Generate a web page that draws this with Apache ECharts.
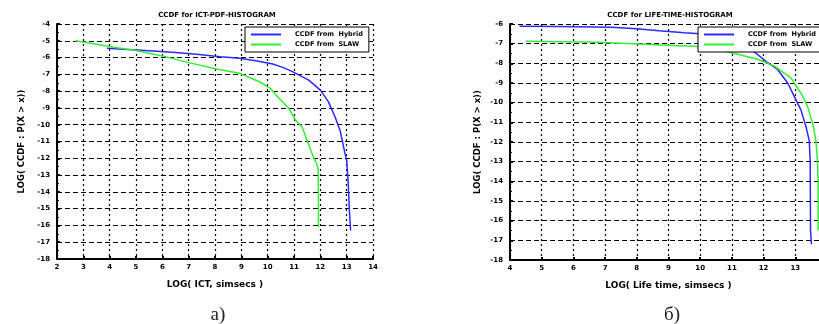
<!DOCTYPE html>
<html>
<head>
<meta charset="utf-8">
<script src="https://cdn.jsdelivr.net/npm/echarts@6/dist/echarts.min.js"></script>
<style>
  html, body { margin: 0; padding: 0; background: #fff; overflow: hidden; }
  #chart { width: 819px; height: 324px; }
</style>
</head>
<body>
<div id="chart"></div>
<script>
// (a) ICT histogram CCDF
const ictHybridX = [3.9, 4.5, 5.5, 6.5, 7.3, 8.2, 8.94, 9.6, 10.19, 10.6, 10.94, 11.56, 12.0, 12.31, 12.56, 12.75, 12.94, 13.0, 13.06, 13.1, 13.13, 13.15];
const ictHybridY = [-5.45, -5.5, -5.6, -5.7, -5.8, -5.95, -6.04, -6.2, -6.38, -6.6, -6.84, -7.34, -7.94, -8.64, -9.54, -10.34, -11.74, -12.1, -13.5, -15, -15.8, -16.3];
const ictSlawX = [2.7, 3.5, 4.2, 4.9, 6.0, 7.0, 8.1, 8.94, 9.69, 10.1, 10.44, 10.81, 11.06, 11.31, 11.5, 11.69, 11.8, 11.86, 11.92, 11.93, 11.93];
const ictSlawY = [-5.0, -5.2, -5.4, -5.55, -5.9, -6.3, -6.7, -6.94, -7.44, -7.84, -8.44, -9.04, -9.74, -10.14, -10.94, -11.74, -12.14, -12.3, -12.7, -14.5, -16.1];

// (б) life time histogram CCDF
const lifeHybridX = [4.3, 5.5, 7.2, 8.0, 8.7, 9.5, 10.0, 10.5, 11.0, 11.6, 12.13, 12.44, 12.76, 12.97, 13.18, 13.34, 13.44, 13.47, 13.48, 13.51];
const lifeHybridY = [-6.12, -6.13, -6.17, -6.24, -6.34, -6.44, -6.5, -6.7, -6.95, -7.28, -7.97, -8.31, -9.0, -9.69, -10.38, -11.24, -11.93, -12.97, -16.5, -17.2];
const lifeSlawX = [4.5, 5.5, 6.5, 7.9, 8.6, 9.3, 10.0, 10.5, 10.97, 11.81, 12.34, 12.86, 13.18, 13.39, 13.55, 13.65, 13.7, 13.72, 13.72];
const lifeSlawY = [-6.88, -6.9, -6.92, -7.0, -7.05, -7.1, -7.15, -7.3, -7.45, -7.79, -8.14, -8.74, -9.52, -10.2, -11.07, -11.93, -12.97, -14.0, -16.5];

const titles = ['CCDF for ICT-PDF-HISTOGRAM', 'CCDF for LIFE-TIME-HISTOGRAM'];
const xNames = ['LOG( ICT, simsecs )', 'LOG( Life time, simsecs )'];
const yName = 'LOG( CCDF : P(X > x))';
const seriesNames = ['CCDF from  Hybrid', 'CCDF from  SLAW'];
const seriesColors = ['#2a2aff', '#33ee33'];
const captions = ['а)', 'б)'];

const pairs = (xs, ys) => xs.map((x, i) => [x, ys[i]]);

const boldFont = (size) => ({ fontFamily: 'DejaVu Sans', fontWeight: 'bold', fontSize: size, color: '#000' });

const makeX = (idx, min, max) => ({
  type: 'value', gridIndex: idx, min: min, max: max, interval: 1,
  name: xNames[idx], nameLocation: 'middle', nameGap: 21,
  nameTextStyle: boldFont(9),
  axisLine: { lineStyle: { color: '#000', width: 2 } },
  axisTick: { inside: true, length: 3, lineStyle: { color: '#000', width: 2 } },
  axisLabel: Object.assign({ margin: 5 }, boldFont(7)),
  splitLine: { show: true, lineStyle: { color: '#000', width: 1.2, type: [2, 3] } }
});

const makeY = (idx, min, max, gap) => ({
  type: 'value', gridIndex: idx, min: min, max: max, interval: 1,
  name: yName, nameLocation: 'middle', nameGap: gap,
  nameTextStyle: boldFont(8.5),
  axisLine: { lineStyle: { color: '#000', width: 2 } },
  axisTick: { inside: true, length: 3, lineStyle: { color: '#000', width: 2 } },
  minorTick: { show: true, splitNumber: 2, length: 2, lineStyle: { color: '#000' } },
  axisLabel: Object.assign({ margin: 7 }, boldFont(7)),
  splitLine: { show: true, lineStyle: { color: '#000', width: 1.2, type: [5, 3] } }
});

const lineSeries = (k, xIdx, data) => ({
  name: seriesNames[k], type: 'line', xAxisIndex: xIdx, yAxisIndex: xIdx,
  data: data, showSymbol: false, smooth: false,
  lineStyle: { color: seriesColors[k], width: 1.5 }, itemStyle: { color: seriesColors[k] }
});

const legendBox = (left, top, width) => ({
  data: seriesNames.map((n, k) => ({ name: n, itemStyle: { color: seriesColors[k] } })),
  orient: 'vertical', left: left, top: top,
  width: width, padding: [4, 6, 4, 6], itemGap: 3,
  itemWidth: 30, itemHeight: 2, icon: 'rect',
  backgroundColor: '#fff', borderColor: '#000', borderWidth: 1, borderRadius: 0,
  textStyle: Object.assign({ padding: [0, 0, 0, 9] }, boldFont(6.5)),
  z: 10
});

const chart = echarts.init(document.getElementById('chart'));
chart.setOption({
  animation: false,
  backgroundColor: '#fff',
  title: [
    { text: titles[0], left: 212, top: 7, textAlign: 'center', textStyle: boldFont(7) },
    { text: titles[1], left: 665, top: 7, textAlign: 'center', textStyle: boldFont(7) },
    { text: captions[0], left: 213, top: 301, textAlign: 'center', textStyle: { fontFamily: 'Liberation Serif', fontWeight: 'normal', fontSize: 19, color: '#222' } },
    { text: captions[1], left: 667, top: 301, textAlign: 'center', textStyle: { fontFamily: 'Liberation Serif', fontWeight: 'normal', fontSize: 19, color: '#222' } }
  ],
  grid: [
    { left: 57, top: 24, right: 446, bottom: 65, outerBoundsMode: 'none' },
    { left: 510, top: 24, right: -8, bottom: 64, outerBoundsMode: 'none' }
  ],
  legend: [
    legendBox(245, 27, 110),
    legendBox(698, 27, 130)
  ],
  xAxis: [makeX(0, 2, 14), makeX(1, 4, 14)],
  yAxis: [makeY(0, -18, -4, 31), makeY(1, -18, -6, 28)],
  series: [
    lineSeries(0, 0, pairs(ictHybridX, ictHybridY)),
    lineSeries(1, 0, pairs(ictSlawX, ictSlawY)),
    lineSeries(0, 1, pairs(lifeHybridX, lifeHybridY)),
    lineSeries(1, 1, pairs(lifeSlawX, lifeSlawY))
  ]
});
</script>
</body>
</html>
